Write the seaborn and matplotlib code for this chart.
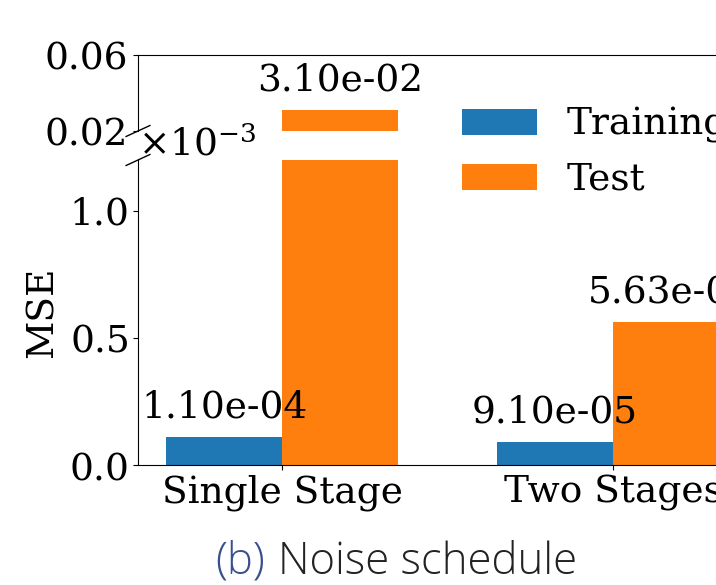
import matplotlib
matplotlib.use("Agg")
import matplotlib.pyplot as plt
import pandas as pd
import seaborn as sns

stages = ["Single Stage", "Two Stages"]
splits = ["Training", "Test"]
training_mse = [1.10e-4, 9.10e-5]
test_mse = [3.10e-2, 5.63e-4]

plt.rcParams["font.family"] = "DejaVu Serif"
plt.rcParams["mathtext.fontset"] = "dejavuserif"
plt.rcParams["font.size"] = 27

df = pd.DataFrame({
    "stage": stages * 2,
    "split": ["Training"] * 2 + ["Test"] * 2,
    "mse": training_mse + test_mse,
})

fig = plt.figure(figsize=(7.16, 5.85), dpi=100)
ax_top = fig.add_axes([138 / 716, (585 - 131) / 585, 619 / 716, 76 / 585])
ax_bot = fig.add_axes([138 / 716, (585 - 465) / 585, 619 / 716, 305 / 585])

for ax in (ax_top, ax_bot):
    sns.barplot(data=df, x="stage", y="mse", hue="split", hue_order=splits,
                palette=["#1f77b4", "#ff7f0e"], saturation=1, width=0.7,
                ax=ax, legend=(ax is ax_bot))
    ax.set_xlim(-0.435, 1.435)

ax_top.set_ylim(0.02, 0.06)
ax_top.set_yticks([0.02, 0.06])
ax_top.set_yticklabels(["0.02", "0.06"])
ax_top.spines["bottom"].set_visible(False)
ax_top.tick_params(axis="x", bottom=False, labelbottom=False)
ax_top.set_xlabel("")
ax_top.set_ylabel("")

ax_bot.set_ylim(0, 1.2e-3)
ax_bot.set_yticks([0, 0.5e-3, 1.0e-3])
ax_bot.ticklabel_format(axis="y", style="sci", scilimits=(0, 0), useMathText=True)
ax_bot.spines["top"].set_visible(False)
ax_bot.set_xlabel("")
ax_bot.set_ylabel("MSE", labelpad=6)

# value labels, only where the bar top falls inside each panel
for ax, lo, hi in ((ax_top, 0.02, 0.06), (ax_bot, 0, 1.2e-3)):
    for cont in ax.containers:
        labels = ["{:.2e}".format(v) if lo < v < hi else "" for v in cont.datavalues]
        ax.bar_label(cont, labels=labels, padding=8)

# break marks
d = 0.012
kw = dict(color="k", clip_on=False, linewidth=1)
ax_top.plot([-d * 1.6, d * 1.6], [-d * 6, d * 6], transform=ax_top.transAxes, **kw)
ax_bot.plot([-d * 1.6, d * 1.6], [1 - d * 1.5, 1 + d * 1.5], transform=ax_bot.transAxes, **kw)

ax_bot.legend(loc="upper left", bbox_to_anchor=(428 / 716, 1 - 73 / 585),
              bbox_transform=fig.transFigure, frameon=False)

# caption below the panel
t1 = fig.text(215 / 716, 0 / 585, "(b)", color="#3a4f8f",
              family="Open Sans", weight="light", fontsize=31.5, ha="left", va="bottom")
fig.canvas.draw()
bb = t1.get_window_extent()
fig.text((bb.x1 + 13) / 716, 0 / 585, "Noise schedule", color="#222222",
         family="Open Sans", weight="light", fontsize=31.5, ha="left", va="bottom")

fig.savefig("out.png", dpi=100)
